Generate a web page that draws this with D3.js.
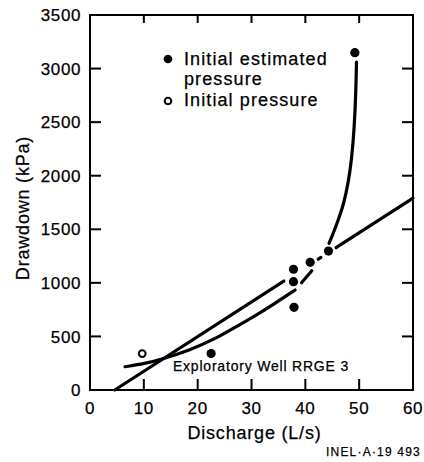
<!DOCTYPE html>
<html>
<head>
<meta charset="utf-8">
<script src="https://cdn.jsdelivr.net/npm/d3@7"></script>
<style>
  body { margin: 0; background: #fff; }
  text { font-family: "Liberation Sans", Arial, Helvetica, sans-serif; fill: #000; stroke: #000; stroke-width: 0.25px; }
</style>
</head>
<body>
<script>
// drawdown vs discharge, well RRGE 3

const width = 424;
const height = 462;

// axis ticks
const dischargeTicks = [0, 10, 20, 30, 40, 50, 60];
const drawdownTicks = [0, 500, 1000, 1500, 2000, 2500, 3000, 3500];

// measured points [discharge L/s, drawdown kPa]
const estimatedPressure = [
  [22.5, 340], [37.8, 1127], [37.8, 1011], [37.9, 772],
  [40.9, 1192], [44.3, 1297], [49.2, 3148]
];
const initialPressure = [[9.7, 340]];

// straight fit line, drawn in broken pieces
const fitLinePieces = [
  [[4.6, 0], [36.0, 1017]],
  [[42.4, 1222], [42.9, 1237]],
  [[45.7, 1328], [60, 1790]]
];

// hand drawn curve, also in pieces
const curvePieces = [
  [[6.5, 217], [10.2, 247], [13.3, 287], [18.6, 373], [23.4, 481],
   [26.6, 576], [30.3, 681], [34.1, 800], [38.1, 933]],
  [[39.3, 1001], [41.2, 1113]],
  [[44.4, 1369], [45.2, 1463], [46.2, 1600], [47.1, 1730], [48.0, 1940],
   [48.6, 2150], [49.1, 2450], [49.4, 2800], [49.5, 3060]]
];

const margin = { top: 15, right: 11, bottom: 72, left: 90 };

const svg = d3.select("body").append("svg")
  .attr("width", width)
  .attr("height", height);

const x = d3.scaleLinear().domain([0, 60]).range([margin.left, width - margin.right]);
const y = d3.scaleLinear().domain([0, 3500]).range([height - margin.bottom, margin.top]);

// frame
svg.append("rect")
  .attr("x", x(0)).attr("y", y(3500))
  .attr("width", x(60) - x(0)).attr("height", y(0) - y(3500))
  .attr("fill", "none").attr("stroke", "#000").attr("stroke-width", 2);

// inward ticks on all four sides
const innerQ = dischargeTicks.slice(1, -1);
const innerD = drawdownTicks.slice(1, -1);
const tickLen = 11;

const ticks = svg.append("g").attr("stroke", "#000").attr("stroke-width", 2);
ticks.selectAll(".tb").data(innerQ).enter().append("line")
  .attr("x1", d => x(d)).attr("x2", d => x(d))
  .attr("y1", y(0)).attr("y2", y(0) - tickLen);
ticks.selectAll(".tt").data(innerQ).enter().append("line")
  .attr("x1", d => x(d)).attr("x2", d => x(d))
  .attr("y1", y(3500)).attr("y2", y(3500) + 8);
ticks.selectAll(".tl").data(innerD).enter().append("line")
  .attr("x1", x(0)).attr("x2", x(0) + tickLen)
  .attr("y1", d => y(d)).attr("y2", d => y(d));
ticks.selectAll(".tr").data(innerD).enter().append("line")
  .attr("x1", x(60)).attr("x2", x(60) - tickLen)
  .attr("y1", d => y(d)).attr("y2", d => y(d));

// tick labels
svg.append("g").selectAll("text").data(drawdownTicks).enter().append("text")
  .attr("x", x(0) - 9).attr("y", d => y(d))
  .attr("dy", "0.36em")
  .attr("text-anchor", "end")
  .style("font-size", "17px")
  .style("letter-spacing", "0.6px")
  .text(d => d);

svg.append("g").selectAll("text").data(dischargeTicks).enter().append("text")
  .attr("x", d => x(d)).attr("y", y(0) + 24)
  .attr("text-anchor", "middle")
  .style("font-size", "17px")
  .style("letter-spacing", "0.6px")
  .text(d => d);

// axis titles
svg.append("text")
  .attr("x", (x(0) + x(60)) / 2 + 3).attr("y", y(0) + 49)
  .attr("text-anchor", "middle")
  .style("font-size", "18px")
  .style("letter-spacing", "0.8px")
  .text("Discharge (L/s)");

svg.append("text")
  .attr("transform", "translate(29," + 208 + ") rotate(-90)")
  .attr("text-anchor", "middle")
  .style("font-size", "18px")
  .style("letter-spacing", "0.8px")
  .text("Drawdown (kPa)");

svg.append("text")
  .attr("x", width - 3).attr("y", height - 6)
  .attr("text-anchor", "end")
  .style("font-size", "12px")
  .style("letter-spacing", "1.2px")
  .text("INEL·A·19  493");

svg.append("text")
  .attr("x", x(15.4)).attr("y", y(0) - 19)
  .style("font-size", "14px")
  .style("letter-spacing", "0.8px")
  .text("Exploratory Well RRGE 3");

// lines
const line = d3.line().x(d => x(d[0])).y(d => y(d[1]));
const smooth = d3.line().x(d => x(d[0])).y(d => y(d[1])).curve(d3.curveBasis);

svg.append("g").selectAll("path").data(fitLinePieces).enter().append("path")
  .attr("d", line)
  .attr("fill", "none").attr("stroke", "#000")
  .attr("stroke-width", 3.2).attr("stroke-linecap", "round");

svg.append("g").selectAll("path").data(curvePieces).enter().append("path")
  .attr("d", smooth)
  .attr("fill", "none").attr("stroke", "#000")
  .attr("stroke-width", 3.2).attr("stroke-linecap", "round");

// points
svg.append("g").selectAll("circle").data(estimatedPressure).enter().append("circle")
  .attr("cx", d => x(d[0])).attr("cy", d => y(d[1]))
  .attr("r", 4.6).attr("fill", "#000");

svg.append("g").selectAll("circle").data(initialPressure).enter().append("circle")
  .attr("cx", d => x(d[0])).attr("cy", d => y(d[1]))
  .attr("r", 3.4).attr("fill", "#fff")
  .attr("stroke", "#000").attr("stroke-width", 2);

// legend
const legend = svg.append("g").attr("transform", "translate(168,0)");
legend.append("circle").attr("cx", 0).attr("cy", 59).attr("r", 4.3).attr("fill", "#000");
legend.append("circle").attr("cx", 0).attr("cy", 101).attr("r", 3.3)
  .attr("fill", "#fff").attr("stroke", "#000").attr("stroke-width", 2);

const legendLines = [["Initial estimated", 65], ["pressure", 85], ["Initial pressure", 106]];
legend.selectAll("text").data(legendLines).enter().append("text")
  .attr("x", 16).attr("y", d => d[1])
  .style("font-size", "18px")
  .style("letter-spacing", "1.1px")
  .text(d => d[0]);
</script>
</body>
</html>
